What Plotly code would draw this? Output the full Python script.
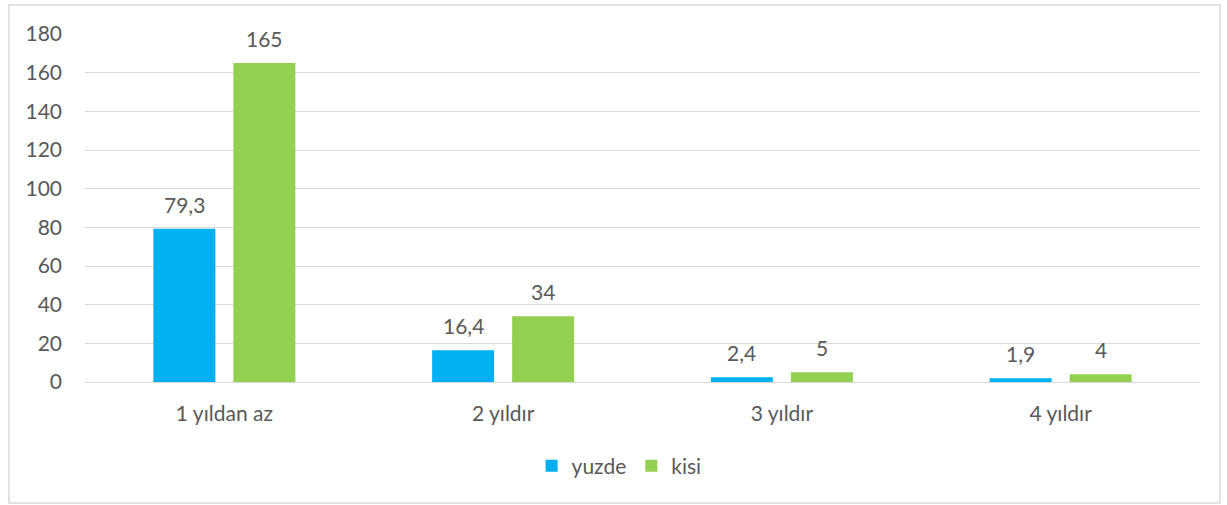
import plotly.graph_objects as go

categories = ["1 yıldan az", "2 yıldır", "3 yıldır", "4 yıldır"]
yuzde = [79.3, 16.4, 2.4, 1.9]
kisi = [165, 34, 5, 4]
series_names = ["yuzde", "kisi"]
colors = ["#00B0F0", "#92D050"]

W, H = 1227, 505
ML, MR, MT, MB = 85, 27, 34, 123
PW, PH = W - ML - MR, H - MT - MB

def fmt(v):
    return ("%g" % v).replace(".", ",")

font = dict(family="Lato, Open Sans, sans-serif", size=21, color="#595959")

fig = go.Figure()
for name, vals, c in zip(series_names, [yuzde, kisi], colors):
    fig.add_trace(go.Bar(x=categories, y=vals, name=name, marker_color=c,
                         marker_line_width=0))

annotations = []
for shift, vals in zip([-40, 40], [yuzde, kisi]):
    for cat, v in zip(categories, vals):
        annotations.append(dict(x=cat, y=v, xref="x", yref="y", text=fmt(v),
                                showarrow=False, yanchor="bottom", xshift=shift,
                                yshift=10, font=font))

fig.update_layout(
    width=W, height=H,
    margin=dict(l=ML, r=MR, t=MT, b=MB),
    paper_bgcolor="white", plot_bgcolor="white",
    barmode="group", bargap=0.426, bargroupgap=0.225,
    font=font,
    annotations=annotations,
    showlegend=True,
    legend=dict(orientation="h", x=0.479, xanchor="center",
                y=-(466 - (MT + PH)) / PH, yanchor="middle",
                font=font, itemwidth=30, tracegroupgap=0),
    separators=",.",
    shapes=[dict(type="rect", xref="paper", yref="paper",
                 x0=(9 - ML) / PW, x1=(1220 - ML) / PW,
                 y0=(MT + PH - 503) / PH, y1=(MT + PH - 5) / PH,
                 line=dict(color="#D9D9D9", width=1.5), fillcolor="rgba(0,0,0,0)", layer="below")],
)
fig.update_yaxes(range=[0, 180], dtick=20, showgrid=True, gridcolor="#D9D9D9", gridwidth=1.3,
                 zeroline=True, zerolinecolor="#D9D9D9", zerolinewidth=1.3,
                 showline=False, ticks="", ticklabelstandoff=22, tickfont=font)
fig.update_xaxes(showline=False, ticks="", ticklabelstandoff=17, tickfont=font)

fig.write_html("out.html", config={"displayModeBar": False},
               post_script="document.body.style.margin='0';document.body.style.padding='0';")
